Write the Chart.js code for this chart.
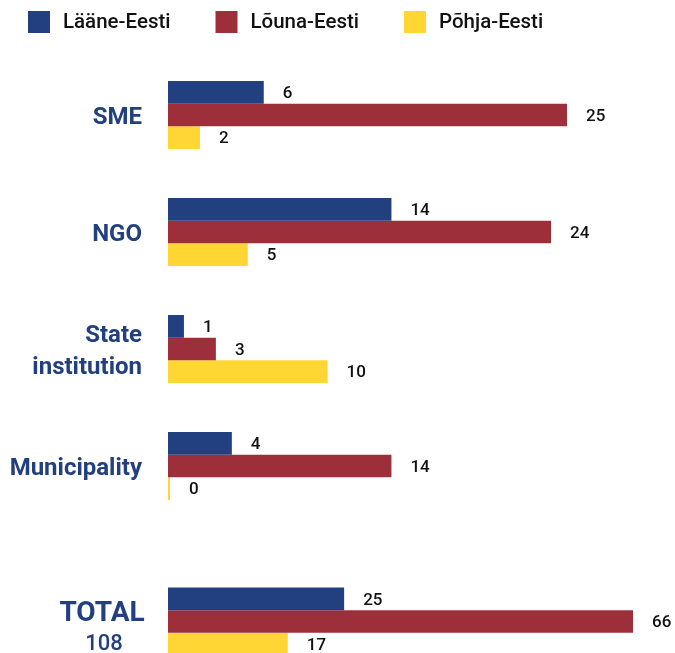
<!DOCTYPE html>
<html><head><meta charset="utf-8">
<script src="https://cdn.jsdelivr.net/npm/chart.js@4"></script>
<style>
html,body{margin:0;padding:0;width:675px;height:653px;overflow:hidden;background:#fff;}
#main{position:absolute;left:0;top:0;}
#total{position:absolute;left:0;top:563px;}
</style></head><body>
<canvas id="main" width="675" height="540"></canvas>
<canvas id="total" width="675" height="117"></canvas>
<script>
const categories = ['SME', 'NGO', ['State', 'institution'], 'Municipality'];
const seriesNames = ['Lääne-Eesti', 'Lõuna-Eesti', 'Põhja-Eesti'];
const laaneValues = [6, 14, 1, 4];
const lounaValues = [25, 24, 3, 14];
const pohjaValues = [2, 5, 10, 0];
const totalCategory = ['TOTAL'];
const totalLaane = [25];
const totalLouna = [66];
const totalPohja = [17];

const colors = ['#22407f', '#9c2f3a', '#ffd633'];
const navy = '#22407f';
const FONT = 'Roboto, "Noto Sans", sans-serif';

function makeDatasets(seriesData) {
  return seriesData.map((d, i) => ({
    label: seriesNames[i],
    data: d,
    backgroundColor: colors[i],
    borderWidth: 0,
    barPercentage: 1,
    categoryPercentage: 0.581,
    minBarLength: 2
  }));
}

const valueLabels = {
  id: 'valueLabels',
  afterDatasetsDraw(chart) {
    const ctx = chart.ctx;
    ctx.save();
    ctx.font = '500 17px ' + FONT;
    ctx.fillStyle = '#111111';
    ctx.textAlign = 'left';
    ctx.textBaseline = 'middle';
    chart.data.datasets.forEach((ds, i) => {
      chart.getDatasetMeta(i).data.forEach((el, j) => {
        ctx.fillText(String(ds.data[j]), el.x + 19, el.y + 1.5);
      });
    });
    ctx.restore();
  }
};

const topLegend = {
  id: 'topLegend',
  afterDraw(chart) {
    const ctx = chart.ctx;
    ctx.save();
    ctx.font = '500 20.5px ' + FONT;
    ctx.textBaseline = 'middle';
    ctx.textAlign = 'left';
    let x = 28;
    chart.data.datasets.forEach(ds => {
      ctx.fillStyle = ds.backgroundColor;
      ctx.fillRect(x, 11, 22, 22);
      ctx.fillStyle = '#111111';
      ctx.fillText(ds.label, x + 35, 23);
      x += 35 + ctx.measureText(ds.label).width + 45;
    });
    ctx.restore();
  }
};

const totalLabel = {
  id: 'totalLabel',
  afterDraw(chart) {
    const ctx = chart.ctx;
    const y = chart.scales.y.getPixelForTick(0);
    const sum = [totalLaane[0], totalLouna[0], totalPohja[0]].reduce((a, b) => a + b, 0);
    ctx.save();
    ctx.fillStyle = navy;
    ctx.textAlign = 'center';
    ctx.textBaseline = 'middle';
    ctx.font = 'bold 28px ' + FONT;
    ctx.fillText(chart.data.labels[0], 102, y - 8);
    ctx.font = '500 22px ' + FONT;
    ctx.fillText(String(sum), 104, y + 23);
    ctx.restore();
  }
};

function baseOptions(xMax, padding, tickCallback) {
  return {
    indexAxis: 'y',
    responsive: false,
    animation: false,
    layout: { padding },
    plugins: { legend: { display: false }, tooltip: { enabled: false } },
    scales: {
      x: { display: false, min: 0, max: xMax },
      y: {
        grid: { display: false, drawTicks: false },
        border: { display: false },
        afterFit(scale) {
          scale.width = 168;
          scale.paddingTop = 0;
          scale.paddingBottom = 0;
        },
        ticks: {
          padding: 26,
          labelOffset: 3,
          color: navy,
          font: { family: FONT, size: 24, weight: 'bold', lineHeight: 1.3 },
          callback: tickCallback
        }
      }
    }
  };
}

new Chart(document.getElementById('main'), {
  type: 'bar',
  data: { labels: categories, datasets: makeDatasets([laaneValues, lounaValues, pohjaValues]) },
  options: baseOptions(30, { top: 56.5, bottom: 15.5, right: 28.2, left: 0 }, function (v) { return this.getLabelForValue(v); }),
  plugins: [valueLabels, topLegend]
});

new Chart(document.getElementById('total'), {
  type: 'bar',
  data: { labels: totalCategory, datasets: makeDatasets([totalLaane, totalLouna, totalPohja]) },
  options: baseOptions(66, { top: 0, bottom: 0, right: 42, left: 0 }, () => ''),
  plugins: [valueLabels, totalLabel]
});
</script>
</body></html>
